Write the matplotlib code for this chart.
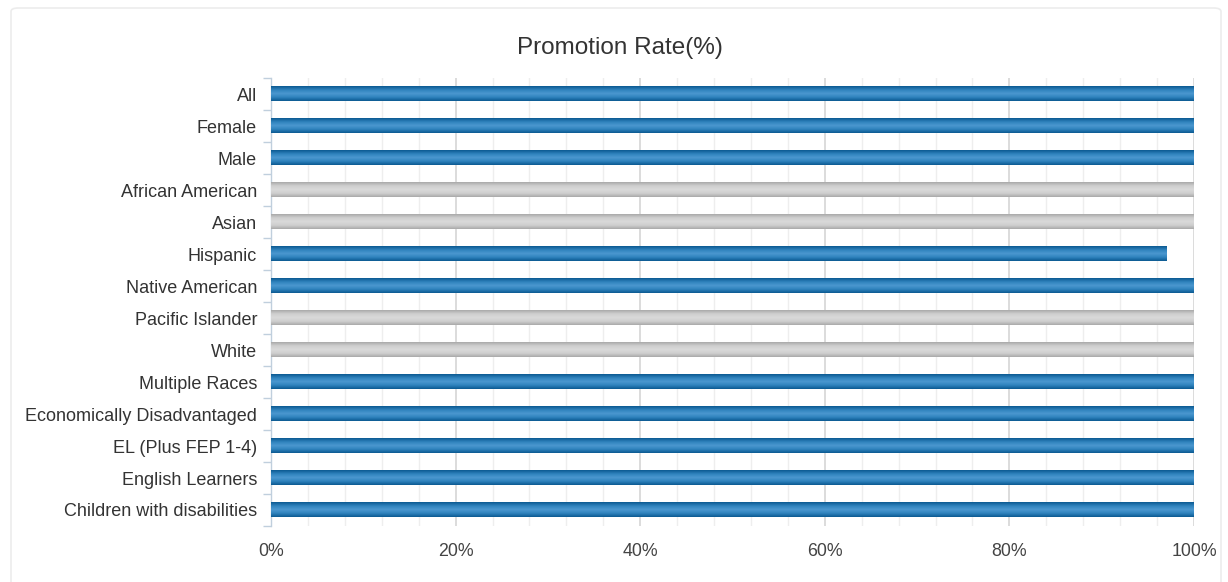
import matplotlib
matplotlib.use("Agg")
import matplotlib.pyplot as plt
import numpy as np
from matplotlib.patches import FancyBboxPatch
from matplotlib.colors import LinearSegmentedColormap
from matplotlib.ticker import MultipleLocator, FuncFormatter

plt.rcParams['font.family'] = ['Liberation Sans', 'DejaVu Sans']

# Datos
categorias = ['All', 'Female', 'Male', 'African American', 'Asian', 'Hispanic',
              'Native American', 'Pacific Islander', 'White', 'Multiple Races',
              'Economically Disadvantaged', 'EL (Plus FEP 1-4)', 'English Learners',
              'Children with disabilities']
valores = [100, 100, 100, 100, 100, 97, 100, 100, 100, 100, 100, 100, 100, 100]
sin_datos = [False, False, False, True, True, False, False, True, True,
             False, False, False, False, False]

fig = plt.figure(figsize=(12.28, 5.82), dpi=100)

# Marco de tarjeta (se sale por abajo como en la captura)
card = FancyBboxPatch((11 / 1228, -0.05), 1210 / 1228, 1.05 - 8 / 582,
                      boxstyle="round,pad=0,rounding_size=0.006",
                      transform=fig.transFigure, facecolor='none',
                      edgecolor='#ececec', linewidth=1.2, zorder=-1)
fig.patches.append(card)

ax = fig.add_axes([271 / 1228, 1 - 526 / 582, 923 / 1228, 448 / 582])
ax.set_facecolor('none')

azul = LinearSegmentedColormap.from_list(
    'azul', ['#0b5a92', '#2f82bd', '#4b98cf', '#2f82bd', '#0b5a92'])
gris = LinearSegmentedColormap.from_list(
    'gris', ['#a9a9a9', '#cfcfcf', '#d9d9d9', '#cfcfcf', '#a9a9a9'])

y = np.arange(len(categorias))
alto = 0.45
grad = np.linspace(0, 1, 64).reshape(-1, 1)
for yi, v, nd in zip(y, valores, sin_datos):
    cmap = gris if nd else azul
    ax.imshow(grad, cmap=cmap, aspect='auto', interpolation='bilinear',
              extent=(0, v, yi + alto / 2, yi - alto / 2), zorder=3)

ax.set_xlim(0, 100)
ax.set_ylim(len(categorias) - 0.5, -0.5)

# Rejilla
ax.xaxis.set_major_locator(MultipleLocator(20))
ax.xaxis.set_minor_locator(MultipleLocator(4))
ax.grid(which='major', axis='x', color='#d6d6d6', linewidth=1.2, zorder=1)
ax.grid(which='minor', axis='x', color='#eeeeee', linewidth=1.0, zorder=1)
ax.set_axisbelow(True)
ax.xaxis.set_major_formatter(FuncFormatter(lambda v, p: f'{v:.0f}%'))
ax.tick_params(axis='x', which='both', length=0, pad=12, labelsize=12.8,
               labelcolor='#444444')

ax.set_yticks(y)
ax.set_yticklabels(categorias)
ax.set_yticks(np.arange(-0.5, len(categorias)), minor=True)
ax.tick_params(axis='y', which='major', length=0, pad=10, labelsize=13,
               labelcolor='#333333')
ax.tick_params(axis='y', which='minor', length=6, width=1, color='#c0cfdd')

for lado in ['top', 'right', 'bottom']:
    ax.spines[lado].set_visible(False)
ax.spines['left'].set_color('#c0cfdd')
ax.spines['left'].set_linewidth(1)

fig.text(620 / 1228, 1 - 48 / 582, 'Promotion Rate(%)', ha='center', va='center',
         fontsize=17.5, color='#333333')

fig.savefig('out.png', dpi=100)
